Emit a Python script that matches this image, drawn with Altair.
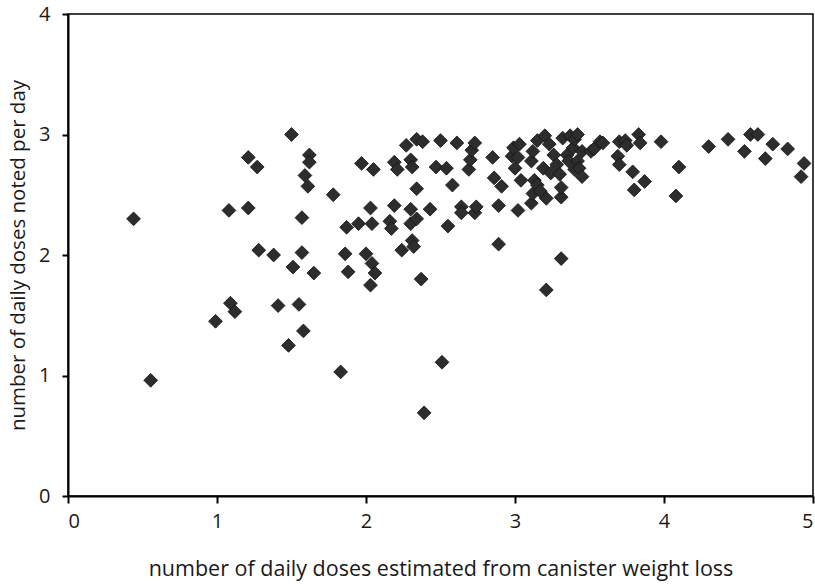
import altair as alt
import pandas as pd

# canister-based estimate of daily doses (x) vs doses noted in diary (y)
estimated = [
    0.44, 0.555, 0.99, 1.08, 1.09, 1.12, 1.21, 1.21, 1.27, 1.28, 1.38, 1.41,
    1.48, 1.50, 1.51, 1.55, 1.57, 1.57, 1.58, 1.59, 1.61, 1.62, 1.62, 1.65,
    1.78, 1.83, 1.86, 1.87, 1.88, 1.95, 1.97, 2.00, 2.03, 2.03, 2.04, 2.04,
    2.05, 2.06, 2.16, 2.17, 2.19, 2.19, 2.21, 2.24, 2.27, 2.30, 2.30, 2.30,
    2.31, 2.31, 2.32, 2.34, 2.34, 2.34, 2.37, 2.38, 2.39, 2.43, 2.47, 2.50,
    2.51, 2.54, 2.55, 2.58, 2.61, 2.64, 2.64, 2.69, 2.70, 2.71, 2.73, 2.73,
    2.74, 2.85, 2.86, 2.89, 2.89, 2.91, 2.98, 2.99, 3.00, 3.02, 3.02, 3.03,
    3.04, 3.11, 3.11, 3.12, 3.12, 3.13, 3.15, 3.15, 3.17, 3.19, 3.20, 3.21,
    3.21, 3.23, 3.24, 3.26, 3.28, 3.30, 3.31, 3.31, 3.31, 3.32, 3.35, 3.36,
    3.37, 3.39, 3.40, 3.40, 3.42, 3.42, 3.43, 3.45, 3.45, 3.51, 3.53, 3.57,
    3.59, 3.69, 3.70, 3.70, 3.74, 3.75, 3.79, 3.80, 3.83, 3.84, 3.87, 3.98,
    4.08, 4.10, 4.30, 4.43, 4.54, 4.58, 4.63, 4.68, 4.73, 4.83, 4.92, 4.94,
]
noted = [
    2.30, 0.96, 1.45, 2.37, 1.60, 1.53, 2.81, 2.39, 2.73, 2.04, 2.00, 1.58,
    1.25, 3.00, 1.90, 1.59, 2.31, 2.02, 1.37, 2.66, 2.57, 2.83, 2.77, 1.85,
    2.50, 1.03, 2.01, 2.23, 1.86, 2.26, 2.76, 2.01, 2.39, 1.75, 2.26, 1.93,
    2.71, 1.85, 2.28, 2.22, 2.77, 2.41, 2.71, 2.04, 2.91, 2.79, 2.38, 2.26,
    2.73, 2.12, 2.07, 2.96, 2.55, 2.30, 1.80, 2.94, 0.69, 2.38, 2.73, 2.95,
    1.11, 2.72, 2.24, 2.58, 2.93, 2.40, 2.35, 2.71, 2.79, 2.87, 2.93, 2.35,
    2.40, 2.81, 2.64, 2.41, 2.09, 2.57, 2.82, 2.89, 2.72, 2.81, 2.37, 2.92,
    2.62, 2.78, 2.43, 2.86, 2.51, 2.62, 2.95, 2.58, 2.53, 2.72, 2.99, 2.47,
    1.71, 2.92, 2.68, 2.83, 2.75, 2.67, 2.48, 1.97, 2.56, 2.97, 2.83, 2.78,
    2.99, 2.89, 2.96, 2.71, 3.00, 2.78, 2.72, 2.86, 2.65, 2.86, 2.88, 2.94,
    2.93, 2.82, 2.94, 2.75, 2.95, 2.91, 2.69, 2.54, 3.00, 2.93, 2.61, 2.94,
    2.49, 2.73, 2.90, 2.96, 2.86, 3.00, 3.00, 2.80, 2.92, 2.88, 2.65, 2.76,
]

x_ticks = [0, 1, 2, 3, 4, 5]
y_ticks = [0, 1, 2, 3, 4]

df = pd.DataFrame({"estimated": estimated, "noted": noted})

FONT = "Open Sans"

chart = (
    alt.Chart(df)
    .mark_point(shape="diamond", filled=True, size=190, color="#2d2d2d",
                stroke="#111111", strokeWidth=0.8, opacity=1)
    .encode(
        x=alt.X(
            "estimated:Q",
            scale=alt.Scale(domain=[0, 5], nice=False, zero=True),
            axis=alt.Axis(
                values=x_ticks,
                title="number of daily doses estimated from canister weight loss",
                titleFontSize=21.5,
                format="d",
                grid=False,
                domainColor="black",
                domainWidth=2,
                tickColor="black",
                tickWidth=2,
                tickSize=7,
                labelPadding=8,
                titlePadding=27,
            ),
        ),
        y=alt.Y(
            "noted:Q",
            scale=alt.Scale(domain=[0, 4], nice=False),
            axis=alt.Axis(
                values=y_ticks,
                title="number of daily doses noted per day",
                titleFontSize=20.5,
                format="d",
                grid=False,
                domainColor="black",
                domainWidth=2,
                tickColor="black",
                tickWidth=2,
                tickSize=6,
                labelPadding=12,
                titlePadding=10,
            ),
        ),
    )
    .properties(
        width=745,
        height=482,
        padding={"left": 68, "top": 14, "right": 2, "bottom": 92},
        autosize=alt.AutoSizeParams(type="none"),
    )
    .configure_view(stroke="black", strokeWidth=1.5)
    .configure_axis(
        labelFont=FONT,
        titleFont=FONT,
        labelFontSize=20,
        titleFontWeight="normal",
        labelColor="#1a1a1a",
        titleColor="#1a1a1a",
    )
)

chart.save("out.html", embed_options={"renderer": "svg", "actions": False})
